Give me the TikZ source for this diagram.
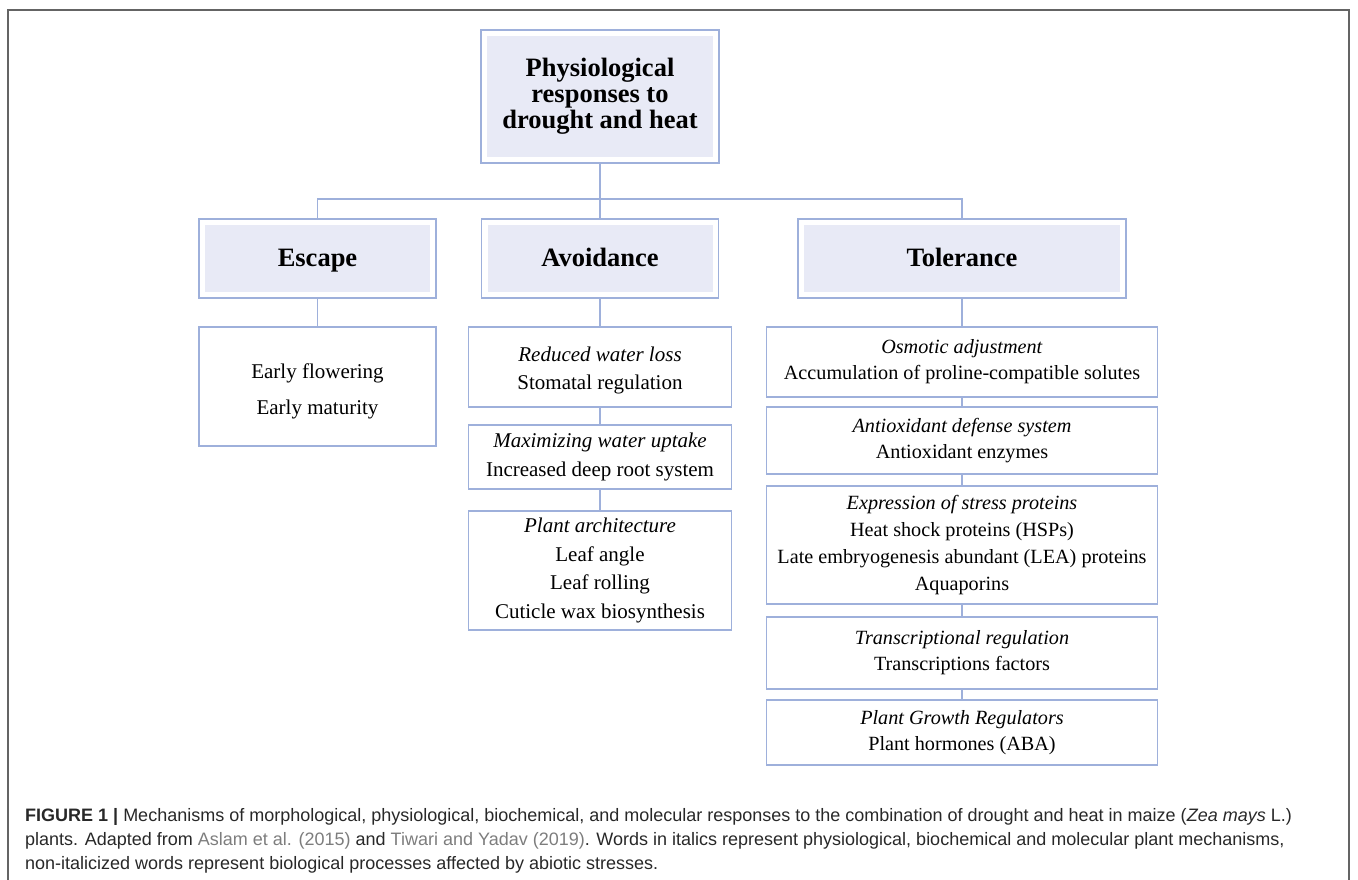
\documentclass[tikz,border=0pt]{standalone}
\usepackage{fontspec}
\setmainfont{Liberation Serif}
\newfontfamily\capfont{Liberation Sans}
\usetikzlibrary{calc}
\definecolor{boxblue}{RGB}{158,176,219}
\definecolor{lav}{RGB}{232,234,246}
\definecolor{framegray}{RGB}{100,100,100}
\definecolor{captext}{RGB}{40,40,40}
\definecolor{citegray}{RGB}{125,125,125}
\tikzset{
  hdr/.style={draw=boxblue, line width=1.5pt, fill=white, inner sep=0pt, align=center,
    font=\bfseries\fontsize{26.5}{26}\selectfont, text height=19.5pt, text depth=4.5pt,
    path picture={\fill[lav] ($(path picture bounding box.south west)+(6pt,6pt)$) rectangle ($(path picture bounding box.north east)+(-6pt,-6pt)$);}},
  bx/.style={draw=boxblue, line width=1.5pt, fill=white, inner sep=0pt, align=center,
    font=\fontsize{20}{27}\selectfont},
  conn/.style={draw=boxblue, line width=1.5pt},
  capline/.style={anchor=base west, inner sep=0pt, text=captext, font=\capfont\fontsize{18}{21}\selectfont}
}
\begin{document}
\begin{tikzpicture}[x=1pt,y=-1pt]
\useasboundingbox (0,0) rectangle (1358,880);
\draw[framegray, line width=1.5pt] (8,880) -- (8,10) -- (1349,10) -- (1349,880);

% header boxes
\node[hdr, minimum width=238pt, minimum height=133pt, text height=, text depth=] (top) at (600,96.5) {Physiological\\responses to\\drought and heat};
\node[hdr, minimum width=237pt, minimum height=79pt] (esc) at (317.5,258.5) {Escape};
\node[hdr, minimum width=237pt, minimum height=79pt] (av) at (600,258.5) {Avoidance};
\node[hdr, minimum width=328pt, minimum height=79pt] (tol) at (962,258.5) {Tolerance};

% escape column
\node[bx, minimum width=237pt, minimum height=119pt, font=\fontsize{21}{36}\selectfont] (esc1) at (317.5,386.5) {\rule{0pt}{24pt}Early flowering\\Early maturity};

% avoidance column
\node[bx, minimum width=263pt, minimum height=80pt, font=\fontsize{21}{28}\selectfont] (av1) at (600,367) {\rule{0pt}{22pt}\textit{Reduced water loss}\\Stomatal regulation};
\node[bx, minimum width=263pt, minimum height=64pt, font=\fontsize{21}{29}\selectfont] (av2) at (600,457) {\textit{Maximizing water uptake}\\Increased deep root system};
\node[bx, minimum width=263pt, minimum height=119pt, font=\fontsize{21}{28.7}\selectfont] (av3) at (600,570.5) {\textit{Plant architecture}\\Leaf angle\\Leaf rolling\\Cuticle wax biosynthesis};

% tolerance column
\node[bx, minimum width=391pt, minimum height=70pt, font=\fontsize{20.2}{26}\selectfont] (t1) at (962,362) {\textit{Osmotic adjustment}\\Accumulation of proline-compatible solutes};
\node[bx, minimum width=391pt, minimum height=67pt, font=\fontsize{20.2}{26}\selectfont] (t2) at (962,440.5) {\textit{Antioxidant defense system}\\Antioxidant enzymes};
\node[bx, minimum width=391pt, minimum height=118pt, font=\fontsize{20.2}{26.7}\selectfont] (t3) at (962,545) {\textit{Expression of stress proteins}\\Heat shock proteins (HSPs)\\Late embryogenesis abundant (LEA) proteins\\Aquaporins};
\node[bx, minimum width=391pt, minimum height=72pt, font=\fontsize{20.2}{26}\selectfont] (t4) at (962,653) {\textit{Transcriptional regulation}\\Transcriptions factors};
\node[bx, minimum width=391pt, minimum height=65pt, font=\fontsize{20.2}{26}\selectfont] (t5) at (962,732.5) {\textit{Plant Growth Regulators}\\Plant hormones (ABA)};

% connectors
\coordinate (j) at (600,199);
\draw[conn] (top.south) -- (j);
\draw[conn] (esc.north) |- (j);
\draw[conn] (tol.north) |- (j);
\draw[conn] (av.north) -- (j);
\draw[conn] (esc.south) -- (esc1.north);
\draw[conn] (av.south) -- (av1.north);
\draw[conn] (av1.south) -- (av2.north);
\draw[conn] (av2.south) -- (av3.north);
\draw[conn] (tol.south) -- (t1.north);
\draw[conn] (t1.south) -- (t2.north);
\draw[conn] (t2.south) -- (t3.north);
\draw[conn] (t3.south) -- (t4.north);
\draw[conn] (t4.south) -- (t5.north);

% caption
\node[capline] (cap1) at (25,821) {\textbf{FIGURE 1 |} Mechanisms of morphological, physiological, biochemical, and molecular responses to the combination of drought and heat in maize (\textit{Zea mays} L.)};
\node[capline] (cap2) at (25,845) {plants. Adapted from \textcolor{citegray}{Aslam et al. (2015)} and \textcolor{citegray}{Tiwari and Yadav (2019)}. Words in italics represent physiological, biochemical and molecular plant mechanisms,};
\node[capline] (cap3) at (25,869) {non-italicized words represent biological processes affected by abiotic stresses.};
\end{tikzpicture}
\end{document}
